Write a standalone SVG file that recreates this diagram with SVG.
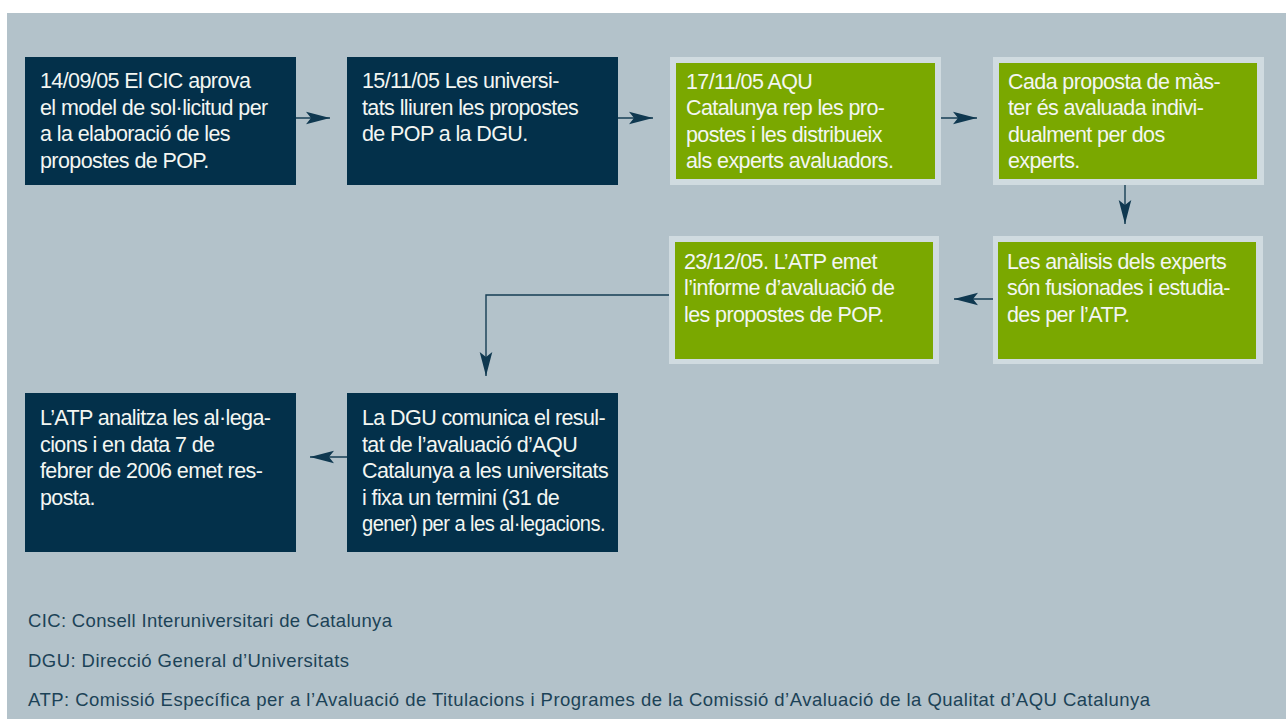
<svg xmlns="http://www.w3.org/2000/svg" width="1286" height="719" viewBox="0 0 1286 719">
<style>
.bg{fill:#b3c2ca}
.dark{fill:#03304a}
.frame{fill:#d0dbe0}
.green{fill:#7aa800}
.t{font-family:"Liberation Sans",Arial,sans-serif;font-size:21.5px;letter-spacing:-0.6px;fill:#f3f6f2}
.f{font-family:"Liberation Sans",Arial,sans-serif;font-size:18.5px;fill:#1c4257}
.c{fill:none;stroke:#163e54;stroke-width:1.4}
</style>
<defs>
<marker id="ah" markerUnits="userSpaceOnUse" markerWidth="26" markerHeight="14" viewBox="0 -7 26 14" refX="24" refY="0" orient="auto">
<path d="M0,-6.3 L24,0 L0,6.3 L5,0 Z" fill="#0f3850"/>
</marker>
</defs>
<rect class="bg" x="7" y="13" width="1279" height="706"/>

<g id="n1">
<rect class="dark" x="25" y="57" width="271" height="128"/>
<text class="t"><tspan x="40" y="88">14/09/05 El CIC aprova</tspan><tspan x="40" y="114.6">el model de sol·licitud per</tspan><tspan x="40" y="141.2">a la elaboració de les</tspan><tspan x="40" y="167.8">propostes de POP.</tspan></text>
</g>
<g id="n2">
<rect class="dark" x="347" y="57" width="271" height="128"/>
<text class="t"><tspan x="362" y="88">15/11/05 Les universi-</tspan><tspan x="362" y="114.6">tats lliuren les propostes</tspan><tspan x="362" y="141.2">de POP a la DGU.</tspan></text>
</g>
<g id="n3">
<rect class="frame" x="670" y="57" width="271" height="128"/>
<rect class="green" x="676" y="63" width="259" height="116"/>
<text class="t"><tspan x="686" y="88.5">17/11/05 AQU</tspan><tspan x="686" y="115.1">Catalunya rep les pro-</tspan><tspan x="686" y="141.7">postes i les distribueix</tspan><tspan x="686" y="168.3">als experts avaluadors.</tspan></text>
</g>
<g id="n4">
<rect class="frame" x="993" y="57" width="271" height="128"/>
<rect class="green" x="999" y="63" width="258" height="116"/>
<text class="t"><tspan x="1008" y="88.5">Cada proposta de màs-</tspan><tspan x="1008" y="115.1">ter és avaluada indivi-</tspan><tspan x="1008" y="141.7">dualment per dos</tspan><tspan x="1008" y="168.3">experts.</tspan></text>
</g>
<g id="n5">
<rect class="frame" x="669" y="236" width="270" height="128"/>
<rect class="green" x="675" y="242" width="258" height="117"/>
<text class="t"><tspan x="684" y="268.5">23/12/05. L’ATP emet</tspan><tspan x="684" y="295.1">l’informe d’avaluació de</tspan><tspan x="684" y="321.7">les propostes de POP.</tspan></text>
</g>
<g id="n6">
<rect class="frame" x="993" y="236" width="270" height="128"/>
<rect class="green" x="998" y="242" width="258" height="117"/>
<text class="t"><tspan x="1007" y="268.5">Les anàlisis dels experts</tspan><tspan x="1007" y="295.1">són fusionades i estudia-</tspan><tspan x="1007" y="321.7">des per l’ATP.</tspan></text>
</g>
<g id="n7">
<rect class="dark" x="25" y="393" width="271" height="159"/>
<text class="t"><tspan x="40" y="425">L’ATP analitza les al·lega-</tspan><tspan x="40" y="451.6">cions i en data 7 de</tspan><tspan x="40" y="478.2">febrer de 2006 emet res-</tspan><tspan x="40" y="504.8">posta.</tspan></text>
</g>
<g id="n8">
<rect class="dark" x="347" y="393" width="271" height="159"/>
<text class="t"><tspan x="362" y="425">La DGU comunica el resul-</tspan><tspan x="362" y="451.6">tat de l’avaluació d’AQU</tspan><tspan x="362" y="478.2">Catalunya a les universitats</tspan><tspan x="362" y="504.8">i fixa un termini (31 de</tspan></text>
<text class="t" x="362" y="531.4" textLength="243" lengthAdjust="spacingAndGlyphs">gener) per a les al·legacions.</text>
</g>

<g id="connectors">
<path class="c" d="M296,118 H330" marker-end="url(#ah)"/>
<path class="c" d="M618,118 H653" marker-end="url(#ah)"/>
<path class="c" d="M941,118 H977" marker-end="url(#ah)"/>
<path class="c" d="M1125,185 V224" marker-end="url(#ah)"/>
<path class="c" d="M993,299 H954" marker-end="url(#ah)"/>
<path class="c" d="M669,295 H486 V376" marker-end="url(#ah)"/>
<path class="c" d="M347,457 H310" marker-end="url(#ah)"/>
</g>

<g id="legend">
<text class="f" x="28" y="626.5" textLength="364" lengthAdjust="spacing">CIC: Consell Interuniversitari de Catalunya</text>
<text class="f" x="28" y="666.5" textLength="321" lengthAdjust="spacing">DGU: Direcció General d’Universitats</text>
<text class="f" x="28" y="706" textLength="1122" lengthAdjust="spacing">ATP: Comissió Específica per a l’Avaluació de Titulacions i Programes de la Comissió d’Avaluació de la Qualitat d’AQU Catalunya</text>
</g>
</svg>
